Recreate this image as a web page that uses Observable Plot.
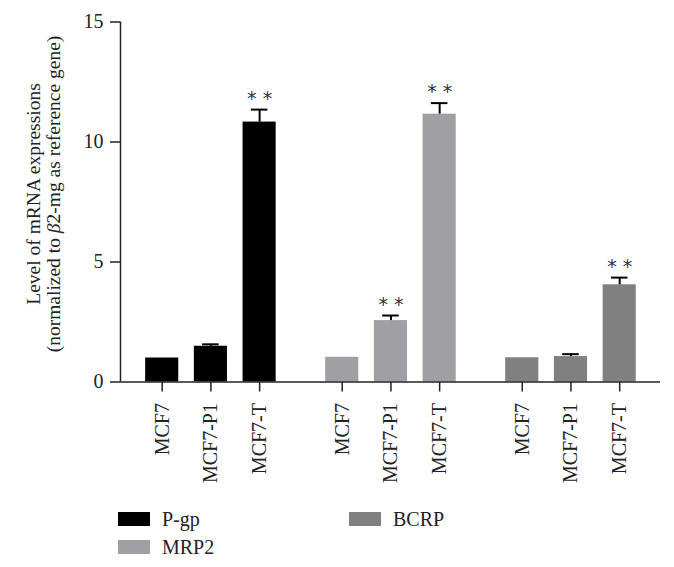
<!DOCTYPE html>
<html>
<head>
<meta charset="utf-8">
<script src="https://cdn.jsdelivr.net/npm/d3@7"></script>
<script src="https://cdn.jsdelivr.net/npm/@observablehq/plot@0.6"></script>
<style>
  body { margin: 0; background: #fff; }
  #wrap { width: 674px; font-family: "Liberation Serif", serif; color: #222; }
  .legend { display: grid; grid-template-columns: 231px auto; grid-template-rows: repeat(2, 28px);
            grid-auto-flow: column; padding-left: 118px; margin-top: 10px; font-size: 20px; }
  .legend .item { display: flex; align-items: center; }
  .legend .sw { width: 32px; height: 14px; margin-right: 12px; }
</style>
</head>
<body>
<div id="wrap"></div>
<script>
// ---- data ----
const genes = ["P-gp", "MRP2", "BCRP"];
const cellLines = ["MCF7", "MCF7-P1", "MCF7-T"];
const pgpValues = [1.0, 1.49, 10.83];
const pgpErrors = [0, 0.08, 0.52];
const mrp2Values = [1.03, 2.56, 11.16];
const mrp2Errors = [0, 0.21, 0.46];
const bcrpValues = [1.01, 1.06, 4.05];
const bcrpErrors = [0, 0.10, 0.30];
const pgpSig = ["", "", "**"];
const mrp2Sig = ["", "**", "**"];
const bcrpSig = ["", "", "**"];
const yTicks = [0, 5, 10, 15];
const yLabel = "Level of mRNA expressions\n(normalized to β2-mg as reference gene)";
const geneColors = ["#000000", "#a0a0a4", "#808080"];

// ---- table ----
const series = [
  [pgpValues, pgpErrors, pgpSig],
  [mrp2Values, mrp2Errors, mrp2Sig],
  [bcrpValues, bcrpErrors, bcrpSig]
];
const groupStep = 3.696;
const rows = [];
series.forEach(([vals, errs, sigs], g) => {
  vals.forEach((v, b) => {
    rows.push({gene: genes[g], cell: cellLines[b], value: v, err: errs[b],
               sig: sigs[b], pos: g * groupStep + b});
  });
});
const positions = rows.map(d => d.pos);
const labelAt = new Map(rows.map(d => [d.pos, d.cell]));
const half = 0.34, capHalf = 0.17;
const xDomain = [-0.856, 10.23];

const chart = Plot.plot({
  width: 674,
  height: 495,
  marginLeft: 120,
  marginRight: 14,
  marginTop: 21.5,
  marginBottom: 113.5,
  style: {fontFamily: "Liberation Serif, serif", fontSize: "20px", color: "#222", background: "#fff"},
  x: {type: "linear", domain: xDomain, ticks: positions, tickFormat: p => labelAt.get(p),
      tickRotate: -90, tickSize: 10, tickPadding: 11, label: null},
  y: {domain: [0, 15], ticks: yTicks, tickSize: 10, tickPadding: 7, label: null},
  color: {domain: genes, range: geneColors},
  marks: [
    Plot.rectY(rows, {x1: d => d.pos - half, x2: d => d.pos + half, y1: 0, y2: "value", fill: "gene"}),
    Plot.ruleX(rows.filter(d => d.err > 0), {x: "pos", y1: "value", y2: d => d.value + d.err, stroke: "#000", strokeWidth: 2}),
    Plot.ruleY(rows.filter(d => d.err > 0), {y: d => d.value + d.err, x1: d => d.pos - capHalf, x2: d => d.pos + capHalf, stroke: "#000", strokeWidth: 2}),
    Plot.text(rows.filter(d => d.sig), {x: "pos", y: d => d.value + d.err, text: d => d.sig.split("").join(" "),
      dy: -11, fontFamily: "DejaVu Sans", fontSize: 19, fill: "#333"}),
    Plot.ruleY([0], {stroke: "#222", strokeWidth: 1.5}),
    Plot.ruleX([xDomain[0]], {y1: 0, y2: 15, stroke: "#222", strokeWidth: 1.5}),
    Plot.text([yLabel], {frameAnchor: "left", textAnchor: "middle", rotate: -90, dx: -77, dy: -8, lineHeight: 1.05,
      text: d => d, fontSize: 19.5, fill: "#222"})
  ]
});

// italic beta in the axis title
chart.querySelectorAll("tspan, text").forEach(el => {
  if (el.children.length === 0 && el.textContent.includes("β")) {
    const [a, b] = el.textContent.split("β");
    el.textContent = "";
    el.appendChild(document.createTextNode(a));
    const it = document.createElementNS("http://www.w3.org/2000/svg", "tspan");
    it.setAttribute("font-style", "italic");
    it.textContent = "β";
    el.appendChild(it);
    el.appendChild(document.createTextNode(b));
  }
});
chart.querySelectorAll('g[aria-label$="tick"]').forEach(g => g.setAttribute("stroke-width", "1.5"));

const wrap = document.getElementById("wrap");
wrap.appendChild(chart);

const legend = document.createElement("div");
legend.className = "legend";
genes.forEach((g, i) => {
  const item = document.createElement("div");
  item.className = "item";
  const sw = document.createElement("span");
  sw.className = "sw";
  sw.style.background = geneColors[i];
  const lab = document.createElement("span");
  lab.textContent = g;
  item.appendChild(sw);
  item.appendChild(lab);
  legend.appendChild(item);
});
wrap.appendChild(legend);
</script>
</body>
</html>
